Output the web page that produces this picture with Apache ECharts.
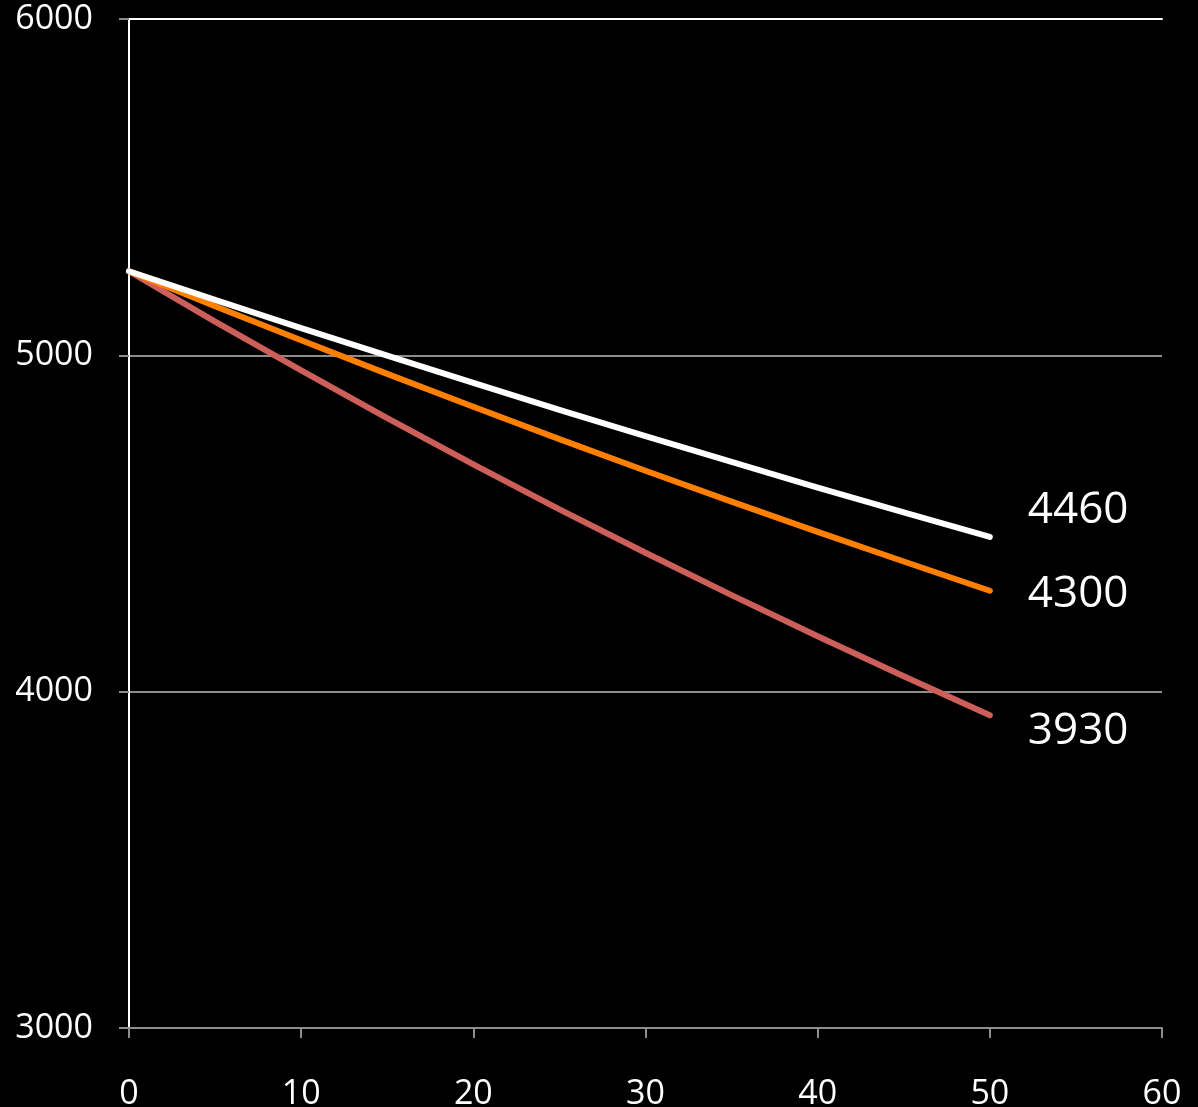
<!DOCTYPE html>
<html>
<head>
<meta charset="utf-8">
<script src="https://cdn.jsdelivr.net/npm/echarts@6/dist/echarts.min.js"></script>
<style>
html,body{margin:0;padding:0;background:#000;}
#chart{width:1198px;height:1107px;}
</style>
</head>
<body>
<div id="chart"></div>
<script>
const xValues = [0, 5, 10, 15, 20, 25, 30, 35, 40, 45, 50];
const whiteValues = [5250, 5165, 5081, 4999, 4918, 4838, 4760, 4683, 4607, 4533, 4460];
const orangeValues = [5250, 5146, 5045, 4945, 4847, 4751, 4657, 4565, 4475, 4387, 4300];
const redValues = [5250, 5100, 4955, 4813, 4676, 4542, 4413, 4287, 4165, 4046, 3930];
const seriesNames = ['white', 'orange', 'red'];
const seriesColors = ['#ffffff', '#ff7f00', '#cd5f5b'];
const labelDy = [-26, 4, 16];

const allValues = [whiteValues, orangeValues, redValues];
const font = "'Open Sans', sans-serif";

const chart = echarts.init(document.getElementById('chart'));
chart.setOption({
  backgroundColor: '#000',
  animation: false,
  grid: { left: 129, right: 36, top: 19, bottom: 79, containLabel: false, outerBoundsMode: 'none' },
  xAxis: [{
    type: 'value', min: 0, max: 60, interval: 10,
    axisLine: { show: true, onZero: false, lineStyle: { color: '#8c8c8c', width: 2 } },
    axisTick: { show: true, inside: false, length: 10, lineStyle: { color: '#8c8c8c', width: 2 } },
    axisLabel: { color: '#fff', fontFamily: font, fontSize: 34, margin: 49 },
    splitLine: { show: false }
  }, {
    type: 'value', position: 'top', min: 0, max: 60,
    axisLine: { show: true, lineStyle: { color: '#fff', width: 2 } },
    axisTick: { show: false }, axisLabel: { show: false }, splitLine: { show: false }
  }],
  yAxis: [{
    type: 'value', min: 3000, max: 6000, interval: 1000,
    axisLine: { show: true, onZero: false, lineStyle: { color: '#8c8c8c', width: 2 } },
    axisTick: { show: true, inside: false, length: 10, lineStyle: { color: '#8c8c8c', width: 2 } },
    axisLabel: { color: '#fff', fontFamily: font, fontSize: 34, margin: 36, padding: [6, 0, 0, 0], formatter: v => String(v) },
    splitLine: { show: true, lineStyle: { color: '#8c8c8c', width: 2 } }
  }, {
    type: 'value', position: 'right', min: 3000, max: 6000,
    axisLine: { show: true, lineStyle: { color: '#fff', width: 2 } },
    axisTick: { show: false }, axisLabel: { show: false }, splitLine: { show: false }
  }],
  series: allValues.map((vals, i) => ({
    name: seriesNames[i],
    type: 'line',
    showSymbol: false,
    symbol: 'none',
    data: xValues.map((x, j) => [x, vals[j]]),
    lineStyle: { color: seriesColors[i], width: 6, cap: 'round', join: 'round' },
    itemStyle: { color: seriesColors[i] },
    z: 10 - i,
    endLabel: {
      show: true,
      color: '#fff',
      fontFamily: font,
      fontSize: 44,
      offset: [30, labelDy[i]],
      formatter: p => String(p.value[1])
    }
  }))
});
</script>
</body>
</html>
